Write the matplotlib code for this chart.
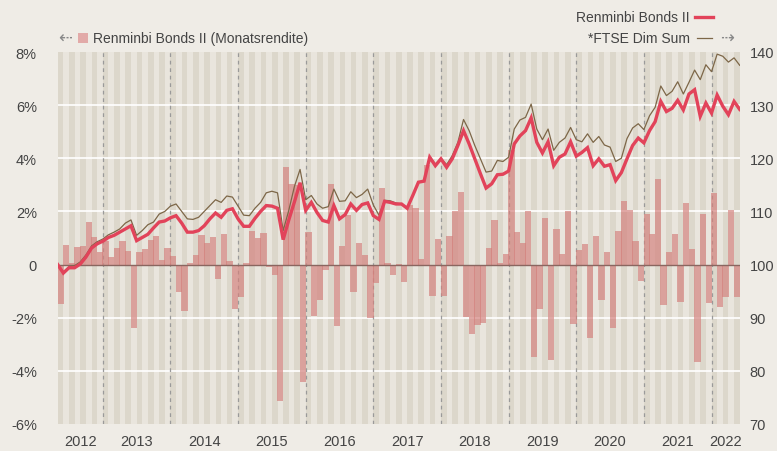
import matplotlib.pyplot as plt
from matplotlib.lines import Line2D
from matplotlib.patches import Rectangle

plt.rcParams['font.family'] = ['Liberation Sans', 'DejaVu Sans']

# Monatsrenditen in %, Mai 2012 - Mai 2022
monthly_return = [
    -1.48, 0.74, 0.06, 0.66, 0.70, 1.61, 1.04, 0.48, 0.9, 0.29, 0.63, 0.89,
    0.51, -2.4, 0.48, 0.59, 0.93, 1.08, 0.18, 0.63, 0.33, -1.05, -1.73, 0.05,
    0.36, 1.12, 0.82, 1.04, -0.56, 1.15, 0.14, -1.69, -1.22, 0.06, 1.27, 1.0,
    1.19, -0.08, -0.38, -5.12, 3.68, 3.04, 3.0, -4.42, 1.24, -1.92, -1.32, -0.19,
    3.04, -2.30, 0.70, 1.87, -1.02, 0.82, 0.36, -2.02, -0.69, 2.87, 0.06, -0.41,
    0.02, -0.64, 2.25, 2.12, 0.21, 3.75, -1.17, 0.97, -1.17, 1.07, 2.0, 2.72,
    -1.98, -2.61, -2.27, -2.2, 0.63, 1.68, 0.05, 0.40, 4.3, 1.24, 0.82, 2.0,
    -3.49, -1.69, 1.74, -3.58, 1.34, 0.40, 2.0, -2.23, 0.53, 0.78, -2.76, 1.07,
    -1.32, 0.46, -2.4, 1.27, 2.4, 2.05, 0.87, -0.6, 1.9, 1.15, 3.22, -1.54,
    0.46, 1.15, -1.39, 2.32, 0.59, -3.68, 1.91, -1.44, 2.7, -1.61, -1.23, 2.06,
    -1.23,
]

# Indexverlauf (Start = 100), Monatsende
renminbi_index = [
    100, 98.4, 99.4, 99.4, 100.1, 101.4, 103.1, 103.9, 104.4, 105.1, 105.5, 106.1,
    106.7, 107.3, 104.5, 105.1, 105.7, 106.9, 108.0, 108.2, 108.8, 109.2, 107.8, 106.1,
    106.1, 106.4, 107.3, 108.6, 109.7, 108.9, 110.2, 110.5, 108.6, 107.2, 107.2, 108.7,
    110.0, 111.1, 111.0, 110.6, 104.7, 108.4, 111.8, 115.4, 110.2, 111.7, 109.8, 108.3,
    108.0, 111.1, 108.6, 109.4, 111.4, 110.2, 111.3, 111.6, 109.2, 108.5, 111.9, 111.7,
    111.4, 111.4, 110.6, 113.0, 115.5, 115.7, 120.2, 118.6, 119.9, 118.3, 119.9, 122.4,
    125.2, 122.7, 119.9, 117.1, 114.4, 115.2, 116.9, 117.0, 117.6, 122.7, 124.2, 125.2,
    127.6, 123.0, 121.0, 123.1, 118.6, 120.2, 120.8, 123.1, 120.4, 121.1, 122.0, 118.6,
    119.9, 118.5, 118.8, 115.8, 117.3, 119.9, 122.4, 123.8, 122.9, 125.2, 126.9, 130.7,
    128.8, 129.4, 130.9, 129.1, 132.1, 132.9, 127.9, 130.4, 128.5, 131.9, 129.8, 128.2,
    130.7, 129.2,
]

ftse_index = [
    100, 98.6, 99.6, 99.8, 100.5, 101.8, 103.5, 104.3, 104.8, 105.6, 106.1, 106.7,
    107.8, 108.4, 105.5, 106.4, 107.5, 108.0, 109.5, 110.0, 111.0, 111.4, 110.0, 108.6,
    108.5, 108.9, 110.0, 111.1, 112.2, 111.7, 112.9, 112.7, 111.0, 109.3, 109.2, 110.6,
    111.7, 113.5, 113.8, 113.5, 106.4, 110.2, 114.7, 117.9, 112.2, 113.0, 111.4, 110.6,
    110.9, 114.2, 111.9, 112.0, 113.7, 112.6, 113.2, 114.2, 111.2, 109.3, 112.1, 112.0,
    111.6, 111.4, 110.5, 113.0, 115.5, 115.7, 120.4, 118.9, 120.0, 118.8, 120.5, 123.0,
    127.3, 125.2, 122.4, 119.9, 117.4, 117.6, 119.6, 119.4, 120.2, 125.5, 127.2, 127.7,
    130.2, 125.5, 123.5, 125.5, 121.5, 123.0, 123.8, 125.8, 123.5, 123.1, 124.6, 123.0,
    124.1, 122.5, 122.1, 119.4, 120.0, 123.7, 125.7, 126.5, 125.4, 128.0, 129.6, 133.6,
    131.8, 132.6, 134.4, 132.1, 134.3, 136.6, 134.8, 137.6, 136.3, 139.6, 139.2, 138.1,
    138.9, 137.5,
]

years = list(range(2012, 2023))
left_ticks = [-6, -4, -2, 0, 2, 4, 6, 8]
left_labels = ['-6%', '-4%', '-2%', '0', '2%', '4%', '6%', '8%']
right_ticks = [70, 80, 90, 100, 110, 120, 130, 140]

n_months = len(monthly_return)
first_jan = 8  # Januar 2013

bg = '#efece6'
stripe_dark = '#dcd7cb'
stripe_light = '#e9e5dd'
text_col = '#444444'
red = '#e2435a'
brown = '#7d6748'

fig = plt.figure(figsize=(7.77, 4.52), dpi=100)
fig.patch.set_facecolor(bg)
ax = fig.add_axes([57.7 / 777, 1 - 425 / 452, 682 / 777, 372 / 452])
ax.set_facecolor(stripe_light)

for k in range(0, n_months, 2):
    ax.axvspan(k, k + 1, color=stripe_dark, lw=0, zorder=0)
for y in [-4, -2, 2, 4, 6]:
    ax.axhline(y, color='white', lw=1.2, zorder=1)
for k in range(first_jan, n_months, 12):
    ax.axvline(k, color='#9a9a9a', lw=0.9, ls=(0, (3, 3)), zorder=1.5)

x_bar = [k + 0.5 for k in range(n_months)]
ax.bar(x_bar, monthly_return, width=1.12, color='#d4807c', alpha=0.67, lw=0, zorder=2)
ax.axhline(0, color='#8a6660', lw=1.0, zorder=3)

ax.set_xlim(0, n_months)
ax.set_ylim(-6, 8)
ax.set_yticks(left_ticks)
ax.set_yticklabels(left_labels)

centers = []
for yr in years:
    s = max(0, first_jan + 12 * (yr - 2013))
    e = min(n_months, first_jan + 12 * (yr - 2012))
    centers.append((s + e) / 2)
ax.set_xticks(centers)
ax.set_xticklabels([str(y) for y in years])
ax.tick_params(axis='x', length=0, pad=7, labelsize=10.5, colors=text_col)
ax.tick_params(axis='y', length=0, pad=15, labelsize=10.5, colors=text_col)
for s in ax.spines.values():
    s.set_visible(False)

ax2 = ax.twinx()
x_line = list(range(len(renminbi_index)))
ax2.plot(x_line, ftse_index, color=brown, lw=0.9, zorder=4)
ax2.plot(x_line, renminbi_index, color=red, lw=2.4, zorder=5, solid_joinstyle='miter')
ax2.set_ylim(70, 140)
ax2.set_yticks(right_ticks)
ax2.tick_params(axis='y', length=0, pad=7, labelsize=10.5, colors=text_col)
for s in ax2.spines.values():
    s.set_visible(False)

def fx(px):
    return px / 777

def fy(py):
    return 1 - py / 452

# Legende links
fig.text(fx(58), fy(39), '\u21e0', color='#888888', fontsize=12, va='center', ha='left',
         family='DejaVu Sans')
fig.add_artist(Rectangle((fx(78), fy(44)), fx(10), 10 / 452, color='#e2aaa8', lw=0))
fig.text(fx(93), fy(39), 'Renminbi Bonds II (Monatsrendite)', color=text_col,
         fontsize=10, va='center', ha='left')

# Legende rechts
fig.text(fx(690), fy(18), 'Renminbi Bonds II', color=text_col, fontsize=10,
         va='center', ha='right')
fig.add_artist(Line2D([fx(695), fx(713)], [fy(18), fy(18)], color=red, lw=2.4))
fig.text(fx(690), fy(39), '*FTSE Dim Sum', color=text_col, fontsize=10,
         va='center', ha='right')
fig.add_artist(Line2D([fx(697), fx(712)], [fy(39), fy(39)], color=brown, lw=0.9))
fig.text(fx(720), fy(39), '\u21e2', color='#888888', fontsize=12, va='center', ha='left',
         family='DejaVu Sans')

fig.savefig('out.png', dpi=100, facecolor=bg)
